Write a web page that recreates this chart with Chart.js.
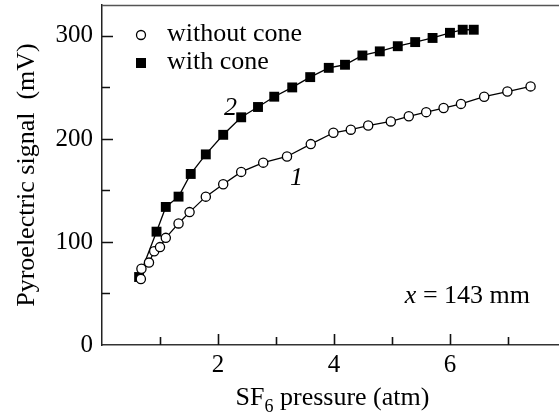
<!DOCTYPE html>
<html lang="en">
<head>
<meta charset="UTF-8">
<title>Pyroelectric signal vs SF6 pressure</title>
<script src="https://cdn.jsdelivr.net/npm/chart.js"></script>
<style>
  body { margin: 0; background: #fff; }
  #chart { display: block; }
</style>
</head>
<body>
<canvas id="chart" width="559" height="415"></canvas>
<script>
// curve 1: without cone (SF6 pressure, atm / signal, mV)
const withoutConeP = [0.67, 0.68, 0.81, 0.90, 1.00, 1.10, 1.32, 1.51, 1.79, 2.09, 2.40, 2.78, 3.19, 3.60, 3.99,
                      4.29, 4.59, 4.98, 5.29, 5.59, 5.89, 6.19, 6.59, 6.99, 7.39];
const withoutConeS = [64, 74, 80, 91, 95, 104, 118, 129, 144, 156, 168, 177, 183, 195, 206,
                      209, 213, 217, 222, 226, 230, 234, 241, 246, 251];

// curve 2: with cone
const withConeP = [0.64, 0.94, 1.10, 1.32, 1.53, 1.79, 2.09, 2.40, 2.69, 2.97, 3.28, 3.59, 3.91,
                   4.19, 4.49, 4.79, 5.10, 5.40, 5.70, 6.00, 6.22, 6.41];
const withConeS = [66, 110, 134, 144, 166, 185, 204, 221, 231, 241, 250, 260, 269,
                   272, 281, 285, 290, 294, 298, 303, 306, 306];

const seriesNames = ['without cone', 'with cone'];
const xTickLabels = ['2', '4', '6'];
const yTickLabels = ['0', '100', '200', '300'];

const serif = "'Liberation Serif', 'Times New Roman', serif";
const FS = 25;   // tick labels
const FT = 26;   // titles, legend, notes

function toPoints(xs, ys) {
    return xs.map((v, i) => ({ x: v, y: ys[i] }));
}

// ticks pointing inward, top frame line, legend and text labels
const decor = {
    id: 'decor',
    afterDraw(chart) {
        const ctx = chart.ctx;
        const a = chart.chartArea;
        const xs = chart.scales.x;
        const ys = chart.scales.y;
        ctx.save();
        ctx.strokeStyle = '#111';
        ctx.lineWidth = 1.6;
        ctx.beginPath();
        for (let v = 1; v <= 7; v++) {
            const px = Math.round(xs.getPixelForValue(v)) + 0.5;
            const len = v % 2 === 0 ? 11 : 8;
            ctx.moveTo(px, a.bottom);
            ctx.lineTo(px, a.bottom - len);
        }
        for (let v = 50; v <= 300; v += 50) {
            const py = Math.round(ys.getPixelForValue(v)) + 0.5;
            const len = v % 100 === 0 ? 11 : 8;
            ctx.moveTo(a.left, py);
            ctx.lineTo(a.left + len, py);
        }
        ctx.stroke();

        // top frame line
        ctx.strokeStyle = '#555';
        ctx.lineWidth = 1.5;
        ctx.beginPath();
        ctx.moveTo(a.left, a.top + 0.5);
        ctx.lineTo(a.right, a.top + 0.5);
        ctx.stroke();

        ctx.fillStyle = '#000';
        ctx.textBaseline = 'alphabetic';
        ctx.textAlign = 'left';

        // x axis title with subscript
        ctx.font = FT + 'px ' + serif;
        const w1 = ctx.measureText('SF').width;
        const w3 = ctx.measureText(' pressure (atm)').width;
        ctx.font = '18px ' + serif;
        const w2 = ctx.measureText('6').width;
        let tx = (a.left + a.right) / 2 + 2 - (w1 + w2 + w3) / 2;
        ctx.font = FT + 'px ' + serif;
        ctx.fillText('SF', tx, 405);
        ctx.font = '18px ' + serif;
        ctx.fillText('6', tx + w1, 412);
        ctx.font = FT + 'px ' + serif;
        ctx.fillText(' pressure (atm)', tx + w1 + w2, 405);

        // legend
        const ds = chart.data.datasets;
        ctx.lineWidth = 1.3;
        ctx.strokeStyle = '#000';
        ctx.beginPath();
        ctx.arc(141, 35, 4.5, 0, Math.PI * 2);
        ctx.fillStyle = '#fff';
        ctx.fill();
        ctx.stroke();
        ctx.fillStyle = '#000';
        ctx.fillRect(136, 58, 10, 10);
        ctx.fillText(ds[0].label, 167, 41);
        ctx.fillText(ds[1].label, 167, 69);

        // curve numbers
        ctx.font = 'italic ' + FT + 'px ' + serif;
        ctx.fillText('2', 224, 115);
        ctx.fillText('1', 290, 185);

        // distance note
        ctx.font = 'italic ' + FT + 'px ' + serif;
        const wx = ctx.measureText('x').width;
        ctx.font = FT + 'px ' + serif;
        const wr = ctx.measureText(' = 143 mm').width;
        const sx = 530 - wx - wr;
        ctx.font = 'italic ' + FT + 'px ' + serif;
        ctx.fillText('x', sx, 303);
        ctx.font = FT + 'px ' + serif;
        ctx.fillText(' = 143 mm', sx + wx, 303);
        ctx.restore();
    }
};

new Chart(document.getElementById('chart'), {
    type: 'scatter',
    data: {
        datasets: [
            {
                label: seriesNames[0],
                data: toPoints(withoutConeP, withoutConeS),
                showLine: true,
                borderColor: '#000',
                borderWidth: 1.3,
                pointStyle: 'circle',
                pointRadius: 4.6,
                pointBorderWidth: 1.3,
                pointBackgroundColor: '#fff',
                pointBorderColor: '#000'
            },
            {
                label: seriesNames[1],
                data: toPoints(withConeP, withConeS),
                showLine: true,
                borderColor: '#000',
                borderWidth: 1.3,
                pointStyle: 'rect',
                pointRadius: 7,
                pointBorderWidth: 0,
                pointBackgroundColor: '#000',
                pointBorderColor: '#000'
            }
        ]
    },
    options: {
        responsive: false,
        animation: false,
        devicePixelRatio: 1,
        layout: { autoPadding: false, padding: { top: 5, left: 0, right: 0, bottom: 0 } },
        plugins: {
            legend: { display: false },
            tooltip: { enabled: false }
        },
        scales: {
            x: {
                type: 'linear',
                min: 0,
                max: 7.88,
                grid: { display: false, drawTicks: false },
                border: { display: true, color: '#333', width: 1.5 },
                ticks: {
                    stepSize: 1,
                    includeBounds: false,
                    autoSkip: false,
                    maxRotation: 0,
                    padding: 5,
                    color: '#000',
                    font: { family: serif, size: FS },
                    callback: v => xTickLabels.includes(String(v)) ? String(v) : ''
                },
                afterFit: s => {
                    s.height = 70;
                    s.paddingLeft = 0;
                    s.paddingRight = 0;
                }
            },
            y: {
                type: 'linear',
                min: 0,
                max: 330,
                grid: { display: false, drawTicks: false },
                border: { display: true, color: '#222', width: 1.5 },
                title: {
                    display: true,
                    text: 'Pyroelectric signal  (mV)',
                    color: '#000',
                    font: { family: serif, size: FT },
                    padding: { top: 12, bottom: 0 }
                },
                ticks: {
                    stepSize: 50,
                    includeBounds: false,
                    autoSkip: false,
                    padding: 9,
                    color: '#000',
                    font: { family: serif, size: FS },
                    callback: v => yTickLabels.includes(String(v)) ? String(v) : ''
                },
                afterFit: s => {
                    s.width = 102;
                    s.paddingTop = 0;
                    s.paddingBottom = 0;
                }
            }
        }
    },
    plugins: [decor]
});
</script>
</body>
</html>
